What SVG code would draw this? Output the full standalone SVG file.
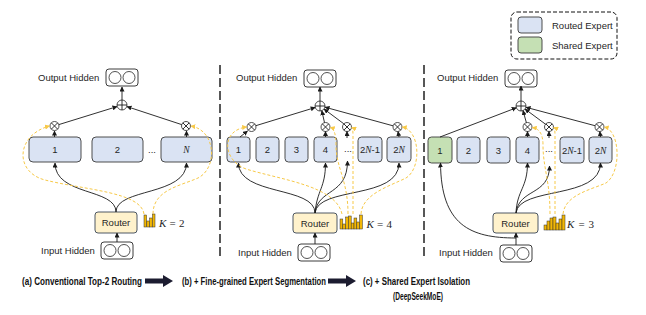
<svg xmlns="http://www.w3.org/2000/svg" width="646" height="315" viewBox="0 0 646 315">
<style>
.t{font-family:"Liberation Sans",Arial,sans-serif;font-size:9.5px;fill:#262626}
.m{text-anchor:middle}
.mi{font-family:"Liberation Serif",serif;font-style:italic}
.ms{font-family:"Liberation Serif",serif;font-size:11px;fill:#262626}
.exp{fill:#dae3f3;stroke:#3a3a3a;stroke-width:0.9}
.sh{fill:#c5e0b4;stroke:#3a3a3a;stroke-width:0.9}
.rt{fill:#fff2cc;stroke:#3a4656;stroke-width:0.9}
.io{fill:#fff;stroke:#262626;stroke-width:0.9}
.c{fill:#fff;stroke:#262626;stroke-width:0.8}
.ln{fill:none;stroke:#1a1a1a;stroke-width:0.9}
.yd{fill:none;stroke:#f7c948;stroke-width:1;stroke-dasharray:3,2}
.bar{fill:#f2b705;stroke:#333;stroke-width:0.5}
.sep{stroke:#111;stroke-width:1.4;stroke-dasharray:9,4;fill:none}
.cap{font-family:"Liberation Sans Narrow","Liberation Sans",sans-serif;font-weight:bold;font-size:10.5px;fill:#111}
.blk{fill:#1c1c30}
</style>
<defs>
<marker id="ah" markerUnits="userSpaceOnUse" markerWidth="5" markerHeight="5" refX="4.5" refY="2.5" orient="auto"><path d="M0,0 L5,2.5 L0,5 z" fill="#1a1a1a"/></marker>
<marker id="ay" markerUnits="userSpaceOnUse" markerWidth="5" markerHeight="5" refX="4.5" refY="2.5" orient="auto"><path d="M0,0 L5,2.5 L0,5 z" fill="#f7c948"/></marker>
<g id="otimes"><circle r="4.5" class="c"/><path d="M-3.2,-3.2L3.2,3.2M-3.2,3.2L3.2,-3.2" class="ln" stroke-width="0.7"/></g>
<g id="oplus"><circle r="5" class="c"/><path d="M-5,0H5M0,-5V5" class="ln" stroke-width="0.7"/></g>
<g id="hid"><rect width="32" height="17" rx="3" class="io"/><circle cx="9" cy="8.5" r="6" class="c"/><circle cx="23" cy="8.5" r="6" class="c"/></g>
</defs>
<rect width="646" height="315" fill="#fff"/>

<!-- separators -->
<g id="separators">
<path class="sep" d="M220,65 V258"/>
<path class="sep" d="M424,65 V258"/>
</g>

<!-- legend -->
<g id="legend">
<rect x="511" y="12" width="106" height="47" rx="6" fill="none" stroke="#111" stroke-width="1" stroke-dasharray="4,2"/>
<rect x="518" y="17" width="24" height="16" rx="3" class="exp"/>
<rect x="518" y="37" width="24" height="16" rx="3" class="sh"/>
<text class="t" x="552" y="28.5" font-size="9">Routed Expert</text>
<text class="t" x="552" y="49" font-size="9">Shared Expert</text>
</g>

<!-- ===== Panel (a) ===== -->
<g id="a-output"><text class="t" x="38" y="80.5">Output Hidden</text><use href="#hid" x="106" y="69"/></g>
<g id="a-plus"><use href="#oplus" x="122" y="105"/></g>
<g id="a-otimes1"><use href="#otimes" x="54.5" y="126"/></g>
<g id="a-otimesN"><use href="#otimes" x="186" y="126"/></g>
<g id="a-e1"><rect x="29" y="137" width="52" height="25" rx="4" class="exp"/><text class="t m" x="55" y="153">1</text></g>
<g id="a-e2"><rect x="92" y="137" width="51" height="25" rx="4" class="exp"/><text class="t m" x="117.5" y="153">2</text></g>
<text class="t m" x="152" y="153">...</text>
<g id="a-eN"><rect x="161" y="137" width="51" height="25" rx="4" class="exp"/><text class="t m mi" x="186.5" y="153" font-size="10">N</text></g>
<g id="a-router"><rect x="95" y="212" width="42" height="21" rx="3" class="rt"/><text class="t m" x="116" y="226">Router</text></g>
<g id="a-bars">
<rect class="bar" x="144" y="215" width="2.6" height="12"/>
<rect class="bar" x="146.8" y="221" width="2.6" height="6"/>
<rect class="bar" x="149.6" y="218" width="2.6" height="9"/>
<rect class="bar" x="152.4" y="214" width="2.6" height="13"/>
</g>
<g id="a-k"><text class="ms" x="159" y="227"><tspan class="mi">K</tspan><tspan x="169.5">=</tspan><tspan x="179">2</tspan></text></g>
<g id="a-input"><text class="t" x="41" y="254">Input Hidden</text><use href="#hid" x="101" y="242"/></g>

<!-- ===== Panel (b) ===== -->
<g id="b-output"><text class="t" x="236" y="81">Output Hidden</text><use href="#hid" x="304" y="70"/></g>
<g id="b-plus"><use href="#oplus" x="320" y="106"/></g>
<g id="b-ot1"><use href="#otimes" x="251.5" y="127"/></g>
<g id="b-ot4"><use href="#otimes" x="325.5" y="127"/></g>
<g id="b-otd"><use href="#otimes" x="347" y="127"/></g>
<g id="b-ot2N"><use href="#otimes" x="397.5" y="127"/></g>
<g id="b-e1"><rect x="227" y="137" width="23" height="25" rx="3.5" class="exp"/><text class="t m" x="238.5" y="153">1</text></g>
<g id="b-e2"><rect x="256" y="137" width="23" height="25" rx="3.5" class="exp"/><text class="t m" x="267.5" y="153">2</text></g>
<g id="b-e3"><rect x="285" y="137" width="23" height="25" rx="3.5" class="exp"/><text class="t m" x="296.5" y="153">3</text></g>
<g id="b-e4"><rect x="314" y="137" width="23" height="25" rx="3.5" class="exp"/><text class="t m" x="325.5" y="153">4</text></g>
<text class="t m" x="348" y="152">...</text>
<g id="b-e2N1"><rect x="358" y="137" width="24" height="25" rx="3.5" class="exp"/><text class="t m" x="370" y="153">2<tspan class="mi">N</tspan>-1</text></g>
<g id="b-e2N"><rect x="387" y="137" width="24" height="25" rx="3.5" class="exp"/><text class="t m" x="399" y="153">2<tspan class="mi">N</tspan></text></g>
<g id="b-router"><rect x="293" y="213" width="44" height="20" rx="3" class="rt"/><text class="t m" x="315" y="226.5">Router</text></g>
<g id="b-bars">
<rect class="bar" x="340" y="219" width="2.8" height="10"/>
<rect class="bar" x="342.8" y="224" width="2.8" height="5"/>
<rect class="bar" x="345.6" y="217" width="2.8" height="12"/>
<rect class="bar" x="348.4" y="216" width="2.8" height="13"/>
<rect class="bar" x="351.2" y="223" width="2.8" height="6"/>
<rect class="bar" x="354" y="218" width="2.8" height="11"/>
<rect class="bar" x="356.8" y="222" width="2.8" height="7"/>
<rect class="bar" x="359.6" y="215" width="2.8" height="14"/>
</g>
<g id="b-k"><text class="ms" x="366.5" y="227.5"><tspan class="mi">K</tspan><tspan x="377">=</tspan><tspan x="386.5">4</tspan></text></g>
<g id="b-input"><text class="t" x="238" y="256">Input Hidden</text><use href="#hid" x="298" y="244"/></g>

<!-- ===== Panel (c) ===== -->
<g id="c-output"><text class="t" x="437" y="81">Output Hidden</text><use href="#hid" x="505" y="70"/></g>
<g id="c-plus"><use href="#oplus" x="521" y="106"/></g>
<g id="c-ot4"><use href="#otimes" x="527.5" y="127"/></g>
<g id="c-otd"><use href="#otimes" x="549" y="127"/></g>
<g id="c-ot2N"><use href="#otimes" x="599.5" y="127"/></g>
<g id="c-e1"><rect x="428" y="137" width="24" height="26" rx="3.5" class="sh"/><text class="t m" x="440" y="153.5">1</text></g>
<g id="c-e2"><rect x="457" y="137" width="23" height="26" rx="3.5" class="exp"/><text class="t m" x="468.5" y="153.5">2</text></g>
<g id="c-e3"><rect x="487" y="137" width="23" height="26" rx="3.5" class="exp"/><text class="t m" x="498.5" y="153.5">3</text></g>
<g id="c-e4"><rect x="516" y="137" width="23" height="26" rx="3.5" class="exp"/><text class="t m" x="527.5" y="153.5">4</text></g>
<text class="t m" x="549" y="152">...</text>
<g id="c-e2N1"><rect x="560" y="137" width="24" height="26" rx="3.5" class="exp"/><text class="t m" x="572" y="153.5">2<tspan class="mi">N</tspan>-1</text></g>
<g id="c-e2N"><rect x="589" y="137" width="23" height="26" rx="3.5" class="exp"/><text class="t m" x="600.5" y="153.5">2<tspan class="mi">N</tspan></text></g>
<g id="c-router"><rect x="493" y="213" width="45" height="20" rx="3" class="rt"/><text class="t m" x="515.5" y="226.5">Router</text></g>
<g id="c-bars">
<rect class="bar" x="544" y="225" width="3" height="5"/>
<rect class="bar" x="547" y="221" width="3" height="9"/>
<rect class="bar" x="550" y="218" width="3" height="12"/>
<rect class="bar" x="553" y="217" width="3" height="13"/>
<rect class="bar" x="556" y="223" width="3" height="7"/>
<rect class="bar" x="559" y="219" width="3" height="11"/>
<rect class="bar" x="562" y="215" width="3" height="15"/>
</g>
<g id="c-k"><text class="ms" x="567" y="227.5"><tspan class="mi">K</tspan><tspan x="578.5">=</tspan><tspan x="588.5">3</tspan></text></g>
<g id="c-input"><text class="t" x="439" y="256">Input Hidden</text><use href="#hid" x="500" y="245"/></g>

<!-- ===== connectors ===== -->
<g id="connectors">
<!-- (a) -->
<path class="ln" marker-end="url(#ah)" d="M116,212 C116,188 55,196 55,163"/>
<path class="ln" marker-end="url(#ah)" d="M116,212 C116,188 186.5,196 186.5,163"/>
<path class="ln" marker-end="url(#ah)" d="M54.5,137 V131"/>
<path class="ln" marker-end="url(#ah)" d="M186.5,137 V131"/>
<path class="ln" marker-end="url(#ah)" d="M58.8,124.6 L117,106.6"/>
<path class="ln" marker-end="url(#ah)" d="M181.7,124.6 L127,106.6"/>
<path class="ln" marker-end="url(#ah)" d="M122,100 V87"/>
<path class="ln" marker-end="url(#ah)" d="M117,242 V233"/>
<path class="yd" marker-end="url(#ay)" d="M144,214 C141,192 85,190 45,180 C14,172 16,135 49.5,126"/>
<path class="yd" marker-end="url(#ay)" d="M153,214 C153,190 180,186 198,178 C218,168 216,130 190.8,126"/>
<!-- (b) -->
<path class="ln" marker-end="url(#ah)" d="M315,213 C315,186 238.5,196 238.5,163"/>
<path class="ln" marker-end="url(#ah)" d="M315,213 C317,190 325.5,188 325.5,163"/>
<path class="ln" marker-end="url(#ah)" d="M315,213 C318,188 347.5,196 347.5,161"/>
<path class="ln" marker-end="url(#ah)" d="M315,213 C318,186 399,200 399,163"/>
<path class="ln" marker-end="url(#ah)" d="M240,137 L247.5,131"/>
<path class="ln" marker-end="url(#ah)" d="M325.5,137 V131.5"/>
<path class="ln" marker-end="url(#ah)" d="M347,138 V131.5"/>
<path class="ln" marker-end="url(#ah)" d="M399,137 L398,131.5"/>
<path class="ln" marker-end="url(#ah)" d="M255.8,125.7 L315.2,107.5"/>
<path class="ln" marker-end="url(#ah)" d="M324.5,122.6 L321.8,110.8"/>
<path class="ln" marker-end="url(#ah)" d="M343.8,123.8 L324,109"/>
<path class="ln" marker-end="url(#ah)" d="M393,125.8 L325,107.2"/>
<path class="ln" marker-end="url(#ah)" d="M320,101 V87"/>
<path class="ln" marker-end="url(#ah)" d="M315,244 V233"/>
<path class="yd" marker-end="url(#ay)" d="M342,214 C336,186 282,180 246,169 C222,160 221,130 246.7,127"/>
<path class="yd" marker-end="url(#ay)" d="M348,214 C348,180 336,168 336,145 Q336,129 330.2,127.5"/>
<path class="yd" marker-end="url(#ay)" d="M353,214 L353,136 Q353,128 351.7,127.5"/>
<path class="yd" marker-end="url(#ay)" d="M361,214 C362,194 390,186 406,178 C422,168 420,130 402.2,127"/>
<!-- (c) -->
<path class="ln" marker-end="url(#ah)" d="M440,137 L516.3,107.8"/>
<path class="ln" marker-end="url(#ah)" d="M516,213 C517,190 527.5,188 527.5,163"/>
<path class="ln" marker-end="url(#ah)" d="M516,213 C519,188 549.5,196 549.5,166"/>
<path class="ln" marker-end="url(#ah)" d="M516,213 C519,186 600.5,200 600.5,163"/>
<path class="ln" marker-end="url(#ah)" d="M516,238 C470,238 441,225 440.5,163"/>
<path class="ln" marker-end="url(#ah)" d="M516,245 V233"/>
<path class="ln" marker-end="url(#ah)" d="M527.5,137 V131.5"/>
<path class="ln" marker-end="url(#ah)" d="M549,138 V131.5"/>
<path class="ln" marker-end="url(#ah)" d="M600.5,137 L599.8,131.5"/>
<path class="ln" marker-end="url(#ah)" d="M526.4,122.7 L523,110.6"/>
<path class="ln" marker-end="url(#ah)" d="M545.5,124.2 L525,109"/>
<path class="ln" marker-end="url(#ah)" d="M595,125.7 L526,107.3"/>
<path class="ln" marker-end="url(#ah)" d="M521,101 V86"/>
<path class="yd" marker-end="url(#ay)" d="M550,214 C550,180 543,168 543,145 Q543,129 532.2,127.5"/>
<path class="yd" marker-end="url(#ay)" d="M555,214 L555,136 Q555,128 553.7,127.5"/>
<path class="yd" marker-end="url(#ay)" d="M563,214 C565,195 590,190 606,183 C622,172 620,130 604.2,127"/>
</g>

<!-- captions -->
<g id="captions">
<text class="cap" x="22" y="285" textLength="120" lengthAdjust="spacingAndGlyphs">(a) Conventional Top-2 Routing</text>
<polygon class="blk" points="145,278.5 163,278.5 163,275 173,281 163,287 163,283.5 145,283.5"/>
<text class="cap" x="182" y="285" textLength="144" lengthAdjust="spacingAndGlyphs">(b) + Fine-grained Expert Segmentation</text>
<polygon class="blk" points="328,278.5 346,278.5 346,275 356,281 346,287 346,283.5 328,283.5"/>
<text class="cap" x="363" y="285" textLength="107" lengthAdjust="spacingAndGlyphs">(c) + Shared Expert Isolation</text>
<text class="cap" x="393" y="300" textLength="50" lengthAdjust="spacingAndGlyphs">(DeepSeekMoE)</text>
</g>
</svg>
